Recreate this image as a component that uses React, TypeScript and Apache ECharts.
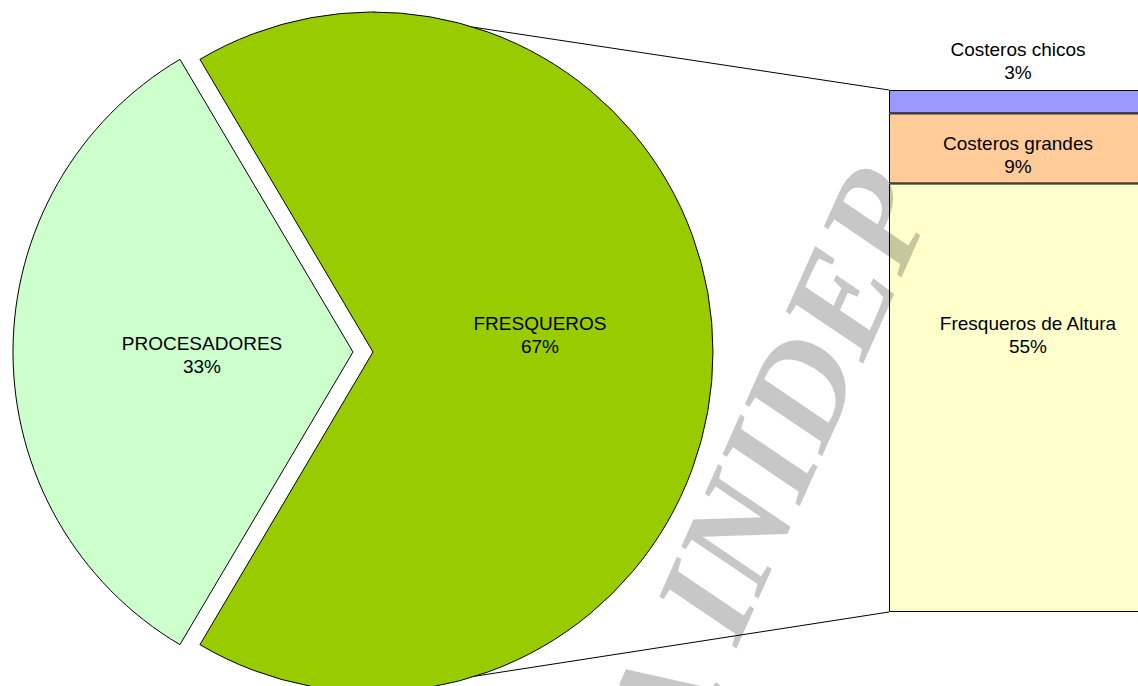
import React, { useEffect, useRef } from "react";
import * as echarts from "echarts";

// ---- data ----
const pieCategories = ["FRESQUEROS", "PROCESADORES"];
const pieValues = [67, 33];
const pieColors = ["#99CC00", "#CCFFCC"];

const barCategories = ["Fresqueros de Altura", "Costeros grandes", "Costeros chicos"];
const barValues = [55, 9, 3];
const barColors = ["#FFFFCC", "#FFCC99", "#9999FF"];

const watermarkWords = ["A", "INIDEP"];

// ---- layout ----
const W = 1138;
const H = 686;
const CHART_W = 1170;
const PIE_CX = 373;
const PIE_CY = 352;
const PIE_R = 340;
const BAR_LEFT = 889;
const BAR_TOP = 90;
const BAR_W = 258;
const BAR_H = 522;
const FONT = '"Liberation Sans", Arial, sans-serif';
const WM_FONT = 'italic bold 140px "Liberation Serif", "Times New Roman", serif';
const WM_ANGLE_DEG = 66;
const WM_END = [893, 180];

function measure(text: string, font: string): number {
  const c = document.createElement("canvas");
  const ctx = c.getContext("2d");
  if (!ctx) return text.length * 80;
  ctx.font = font;
  return ctx.measureText(text).width;
}

export default function App() {
  const ref = useRef<HTMLDivElement>(null);

  useEffect(() => {
    if (!ref.current) return;
    const chart = echarts.init(ref.current, undefined, { renderer: "svg" });
    const pieTotal = pieValues.reduce((a, b) => a + b, 0);
    const barTotal = barValues.reduce((a, b) => a + b, 0);
    const startAngle = (pieValues[0] / pieTotal) * 180;

    const pieLabelShift = [
      { dx: -6, dy: -17 },
      { dx: 22, dy: 3 },
    ];

    const barLabelCfg = [
      { position: "inside", offset: [10, -63] },
      { position: "inside", offset: [0, 7] },
      { position: "top", offset: [0, 0], distance: 6 },
    ];

    const wWord = measure(watermarkWords[1], WM_FONT);
    const wSpace = measure(" ", WM_FONT);

    chart.setOption({
      animation: false,
      backgroundColor: "#ffffff",
      grid: { left: BAR_LEFT, top: BAR_TOP, width: BAR_W, height: BAR_H, containLabel: false },
      xAxis: { type: "category", data: ["otros"], show: false },
      yAxis: { type: "value", min: 0, max: barTotal, show: false },
      series: [
        {
          type: "pie",
          center: [PIE_CX, PIE_CY],
          radius: PIE_R,
          startAngle,
          clockwise: true,
          selectedMode: "single",
          selectedOffset: 20,
          silent: true,
          label: {
            show: true,
            position: "inside",
            formatter: (p: any) => `${p.name}\n${p.value}%`,
            color: "#000",
            fontFamily: FONT,
            fontSize: 19,
            lineHeight: 23,
          },
          labelLine: { show: false },
          labelLayout: (p: any) => pieLabelShift[p.dataIndex],
          itemStyle: { borderColor: "#000", borderWidth: 1 },
          emphasis: { disabled: true },
          data: pieCategories.map((name, i) => ({
            name,
            value: pieValues[i],
            selected: i === 1,
            itemStyle: { color: pieColors[i], borderColor: "#000", borderWidth: 1 },
            select: { itemStyle: { color: pieColors[i], borderColor: "#000", borderWidth: 1 } },
          })),
        },
        ...barCategories.map((name, i) => ({
          type: "bar",
          name,
          stack: "total",
          barWidth: "100%",
          silent: true,
          data: [barValues[i]],
          itemStyle: { color: barColors[i], borderColor: "#000", borderWidth: 1 },
          emphasis: { disabled: true },
          label: {
            show: true,
            position: barLabelCfg[i].position,
            offset: barLabelCfg[i].offset,
            distance: (barLabelCfg[i] as any).distance ?? 5,
            formatter: (p: any) => `${p.seriesName}\n${p.value}%`,
            color: "#000",
            fontFamily: FONT,
            fontSize: 19,
            lineHeight: 23,
          },
        })),
      ],
      graphic: [
        {
          type: "line",
          silent: true,
          z: -1,
          shape: { x1: PIE_CX, y1: PIE_CY - PIE_R, x2: BAR_LEFT, y2: BAR_TOP },
          style: { stroke: "#000", lineWidth: 1 },
        },
        {
          type: "line",
          silent: true,
          z: -1,
          shape: { x1: PIE_CX, y1: PIE_CY + PIE_R, x2: BAR_LEFT, y2: BAR_TOP + BAR_H },
          style: { stroke: "#000", lineWidth: 1 },
        },
        {
          type: "group",
          silent: true,
          z: 100,
          x: WM_END[0],
          y: WM_END[1],
          rotation: (WM_ANGLE_DEG * Math.PI) / 180,
          children: [
            {
              type: "text",
              silent: true,
              z: 100,
              x: -(wWord + wSpace),
              y: 0,
              style: {
                text: watermarkWords[0],
                fill: "rgba(0,0,0,0.22)",
                font: WM_FONT,
                align: "right",
                verticalAlign: "middle",
              },
            },
            {
              type: "text",
              silent: true,
              z: 100,
              x: 0,
              y: 0,
              style: {
                text: watermarkWords[1],
                fill: "rgba(0,0,0,0.22)",
                font: WM_FONT,
                align: "right",
                verticalAlign: "middle",
              },
            },
          ],
        },
      ],
    });
    return () => chart.dispose();
  }, []);

  return (
    <div style={{ position: "absolute", left: 0, top: 0, width: W, height: H, overflow: "hidden" }}>
      <div ref={ref} style={{ width: CHART_W, height: H }} />
    </div>
  );
}
